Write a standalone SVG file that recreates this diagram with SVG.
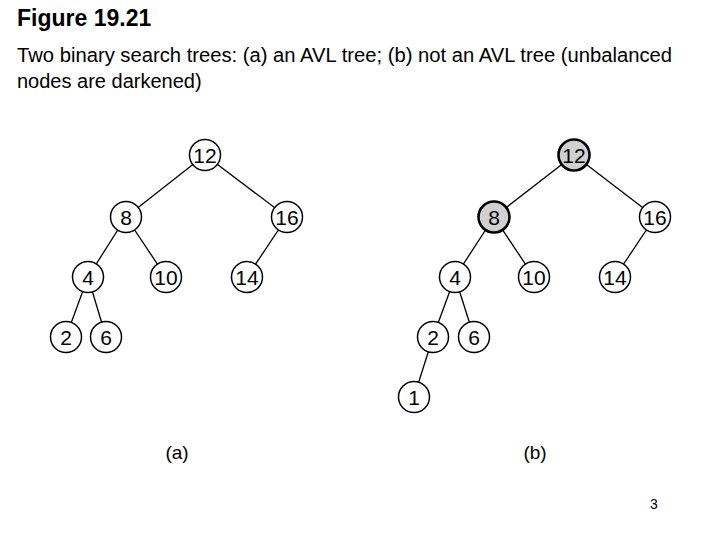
<svg xmlns="http://www.w3.org/2000/svg" width="720" height="540" viewBox="0 0 720 540">
<style>
.t{font-family:"Liberation Sans",Arial,sans-serif;fill:#000}
.e line{stroke:#000;stroke-width:1.3}
.n circle{fill:#fff;stroke:#000;stroke-width:1.5}
.d circle{fill:#d0d0d0;stroke:#000;stroke-width:2.6}
.n text,.d text{font-family:"Liberation Sans",Arial,sans-serif;font-size:21px;text-anchor:middle;fill:#000}
</style>
<rect width="720" height="540" fill="#fff"/>
<text class="t" x="17" y="26" font-size="23" font-weight="bold">Figure 19.21</text>
<text class="t" x="17" y="62" font-size="20" textLength="655" lengthAdjust="spacingAndGlyphs">Two binary search trees: (a) an AVL tree; (b) not an AVL tree (unbalanced</text>
<text class="t" x="17" y="88" font-size="20">nodes are darkened)</text>
<g id="connectors" class="e">
<line x1="205" y1="155" x2="126" y2="217"/>
<line x1="205" y1="155" x2="287" y2="217"/>
<line x1="126" y1="217" x2="88" y2="277"/>
<line x1="126" y1="217" x2="166" y2="277"/>
<line x1="287" y1="217" x2="247" y2="277"/>
<line x1="88" y1="277" x2="66" y2="337"/>
<line x1="88" y1="277" x2="106" y2="337"/>
<line x1="574" y1="155" x2="494" y2="217"/>
<line x1="574" y1="155" x2="655" y2="217"/>
<line x1="494" y1="217" x2="455" y2="277"/>
<line x1="494" y1="217" x2="534" y2="277"/>
<line x1="655" y1="217" x2="615" y2="277"/>
<line x1="455" y1="277" x2="433" y2="337"/>
<line x1="455" y1="277" x2="474" y2="337"/>
<line x1="433" y1="337" x2="414" y2="397"/>
</g>
<g id="a12" class="n"><circle cx="205" cy="155" r="15.5"/><text x="205" y="162.5">12</text></g>
<g id="a8" class="n"><circle cx="126" cy="217" r="15.5"/><text x="126" y="224.5">8</text></g>
<g id="a16" class="n"><circle cx="287" cy="217" r="15.5"/><text x="287" y="224.5">16</text></g>
<g id="a4" class="n"><circle cx="88" cy="277" r="15.5"/><text x="88" y="284.5">4</text></g>
<g id="a10" class="n"><circle cx="166" cy="277" r="15.5"/><text x="166" y="284.5">10</text></g>
<g id="a14" class="n"><circle cx="247" cy="277" r="15.5"/><text x="247" y="284.5">14</text></g>
<g id="a2" class="n"><circle cx="66" cy="337" r="15.5"/><text x="66" y="344.5">2</text></g>
<g id="a6" class="n"><circle cx="106" cy="337" r="15.5"/><text x="106" y="344.5">6</text></g>
<g id="b12" class="d"><circle cx="574" cy="155" r="15.5"/><text x="574" y="162.5">12</text></g>
<g id="b8" class="d"><circle cx="494" cy="217" r="15.5"/><text x="494" y="224.5">8</text></g>
<g id="b16" class="n"><circle cx="655" cy="217" r="15.5"/><text x="655" y="224.5">16</text></g>
<g id="b4" class="n"><circle cx="455" cy="277" r="15.5"/><text x="455" y="284.5">4</text></g>
<g id="b10" class="n"><circle cx="534" cy="277" r="15.5"/><text x="534" y="284.5">10</text></g>
<g id="b14" class="n"><circle cx="615" cy="277" r="15.5"/><text x="615" y="284.5">14</text></g>
<g id="b2" class="n"><circle cx="433" cy="337" r="15.5"/><text x="433" y="344.5">2</text></g>
<g id="b6" class="n"><circle cx="474" cy="337" r="15.5"/><text x="474" y="344.5">6</text></g>
<g id="b1" class="n"><circle cx="414" cy="397" r="15.5"/><text x="414" y="404.5">1</text></g>
<text class="t" x="177" y="459" font-size="19" text-anchor="middle">(a)</text>
<text class="t" x="535" y="459" font-size="19" text-anchor="middle">(b)</text>
<text class="t" x="654" y="509" font-size="14" text-anchor="middle">3</text>
</svg>
